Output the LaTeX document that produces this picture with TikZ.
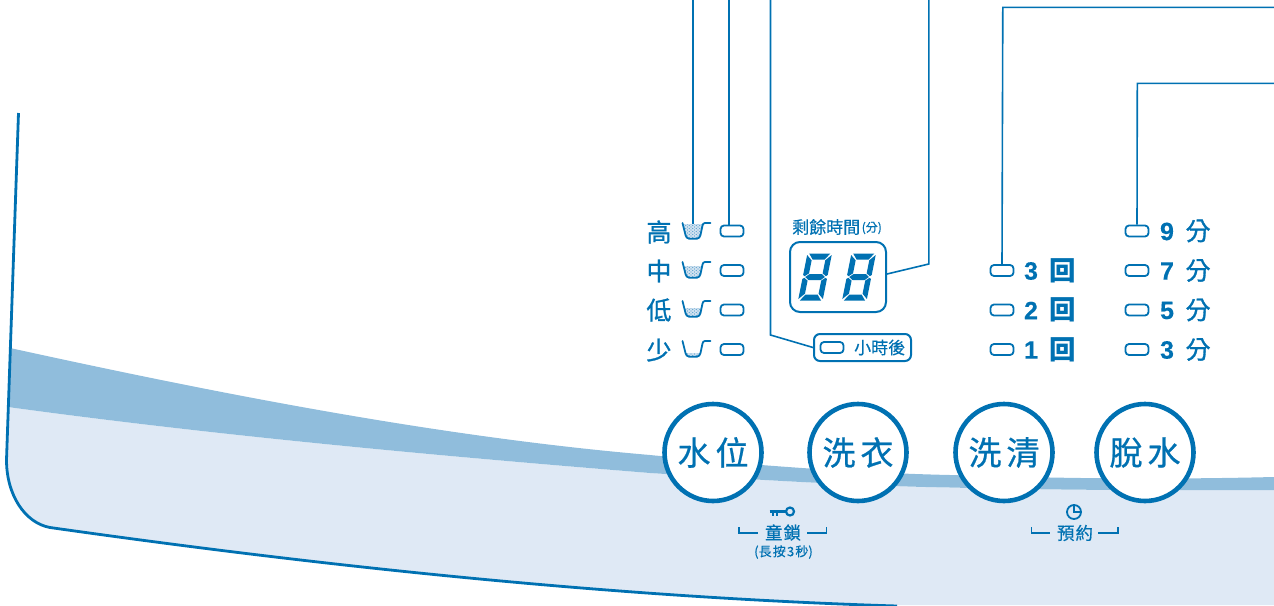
\documentclass[tikz,border=0pt]{standalone}
\usepackage{fontspec}
\setmainfont{Liberation Sans}
\newfontfamily\cjk{Noto Sans CJK TC}
\newfontfamily\cjklab[FakeBold=1.2]{Noto Sans CJK TC}
\newfontfamily\cjkbtn[FakeBold=0.7]{Noto Sans CJK TC}
\newfontfamily\cjkthin[FakeBold=0.5]{Noto Sans CJK TC}
\newfontfamily\latinb[FakeBold=0.3]{Liberation Sans}
\definecolor{ink}{HTML}{0071B2}
\definecolor{band}{HTML}{90BDDC}
\definecolor{pale}{HTML}{DFE9F5}
\definecolor{water}{HTML}{D3E3F1}
\tikzset{
  lead/.style={draw=ink,line width=1.6pt},
  lampbox/.style={draw=ink,line width=1.8pt,rounded corners=3.5pt,minimum width=23pt,minimum height=11pt,inner sep=0pt},
  panelbox/.style={draw=ink,line width=2pt,inner sep=0pt},
  btn/.style={circle,draw=ink,fill=white,line width=4.6pt,minimum size=97pt,inner sep=0pt,text=ink,font=\cjkbtn\fontsize{33}{33}\selectfont},
  lab/.style={inner sep=0pt,text=ink,font=\cjklab\fontsize{25}{25}\selectfont},
  boxlab/.style={inner sep=0pt,text=ink,font=\cjk\bfseries\fontsize{26.5}{26.5}\selectfont},
  numlab/.style={inner sep=0pt,text=ink,font=\latinb\bfseries\fontsize{25}{25}\selectfont},
  smalllab/.style={inner sep=0pt,text=ink,font=\cjkthin\fontsize{17.5}{18}\selectfont},
  tinylab/.style={inner sep=0pt,text=ink,font=\cjkthin\fontsize{12}{12}\selectfont},
  brack/.style={draw=ink,line width=1.6pt},
}
% beaker: top y, water level y
\newcommand{\beakerdraw}[3]{%
  \begin{scope}[shift={(0,#1)}]
    \begin{scope}
      \clip (680,#2) rectangle (705,16);
      \fill[water] (682.5,0) -- (685.5,12) to[out=-75,in=180] (689,15.7) -- (697,15.7) to[out=0,in=-105] (700.5,12) -- (703,0) -- cycle;
      \clip (682.5,0) -- (685.5,12) to[out=-75,in=180] (689,15.7) -- (697,15.7) to[out=0,in=-105] (700.5,12) -- (703,0) -- cycle;
      \foreach \dx in {684,687.5,...,703}{\foreach \dy in {1,4,...,16}{
        \fill[ink,opacity=.6] (\dx,\dy) circle (.55pt);
        \fill[ink,opacity=.6] (\dx+1.75,\dy+1.5) circle (.55pt);
      }}
    \end{scope}
    \draw[ink,line width=1.8pt,line cap=round,line join=round] (682.5,0) -- (685.5,12) to[out=-75,in=180] (689,15.7) -- (697,15.7) to[out=0,in=-105] (700.5,12) -- (702.5,2.5) to[out=80,in=180] (705,0) -- (710.5,0);
  \end{scope}}
% seven segment digit
\newcommand{\segdigit}[2]{%
  \begin{scope}[shift={(#1,#2)},xslant=0.2]
    \fill[ink] (1.8,0) -- (23,0) -- (18.4,6) -- (6.4,6) -- cycle;
    \fill[ink] (2.5,23.5) -- (6.4,20.5) -- (18.6,20.5) -- (22.2,23.5) -- (18.6,26.5) -- (6.4,26.5) -- cycle;
    \fill[ink] (1.8,47) -- (23,47) -- (18.4,41) -- (6.4,41) -- cycle;
    \fill[ink] (0,1.5) -- (5.6,6.8) -- (5.6,19.8) -- (1.8,22.7) -- (0,21.5) -- cycle;
    \fill[ink] (0,25.5) -- (1.8,24.3) -- (5.6,27.2) -- (5.6,40.2) -- (0,45.5) -- cycle;
    \fill[ink] (24.6,1.5) -- (19.2,6.8) -- (19.2,19.8) -- (23,22.7) -- (24.6,21.5) -- cycle;
    \fill[ink] (24.6,25.5) -- (23,24.3) -- (19.2,27.2) -- (19.2,40.2) -- (24.6,45.5) -- cycle;
  \end{scope}}
\begin{document}
\begin{tikzpicture}[x=1pt,y=-1pt]
\useasboundingbox (0,0) rectangle (1274,605);
% panel body
\fill[pale] (8,407) -- (6,460) .. controls (6,495) and (25,523) .. (50,527) .. controls (300,563) and (600,597) .. (897,605) -- (1274,605) -- (1274,490) .. controls (1150,490.5) and (1050,490) .. (950,487.5) .. controls (860,486) and (760,480) .. (650,473) .. controls (440,456) and (220,436) .. (8,407) -- cycle;
\fill[band] (10,348) .. controls (220,394) and (440,437) .. (650,455) .. controls (760,466) and (860,473) .. (950,475) .. controls (1050,478) and (1150,480) .. (1274,477) -- (1274,490) .. controls (1150,490.5) and (1050,490) .. (950,487.5) .. controls (860,486) and (760,480) .. (650,473) .. controls (440,456) and (220,436) .. (8,407) -- cycle;
\draw[ink,line width=2.8pt] (18.5,113) -- (6.5,460) .. controls (6.5,495) and (25,523) .. (50,527.5) .. controls (300,563) and (600,597) .. (897,606);
% free ends
\coordinate (t1) at (693,-1);
\coordinate (t2) at (729,-1);
\coordinate (t3) at (770.5,-1);
\coordinate (t4) at (928.8,-1);
\coordinate (t5) at (1275,7.3);
\coordinate (t6) at (1275,83.3);
\coordinate (bk) at (693,224);
\coordinate (k3) at (770.5,335);
\coordinate (k4) at (928.8,264);
\coordinate (k5) at (1002.8,7.3);
\coordinate (k6) at (1137.3,83.3);
% left column
\node[lab] (gao) at (659,232) {高};
\node[lab] (zhong) at (659,271) {中};
\node[lab] (di) at (659,310) {低};
\node[lab] (shao) at (659,350) {少};
\beakerdraw{223}{1}{}
\beakerdraw{262}{4}{}
\beakerdraw{301}{7}{}
\beakerdraw{341}{12}{}
\node[lampbox] (la1) at (732,231) {};
\node[lampbox] (la2) at (732,270.5) {};
\node[lampbox] (la3) at (732,310) {};
\node[lampbox] (la4) at (732,349.5) {};
% display
\node[smalllab,anchor=west,font=\cjkthin\fontsize{17}{17}\selectfont] (rem) at (792,227) {剩餘時間};
\node[tinylab,anchor=west,font=\cjkthin\fontsize{12}{12}\selectfont] (remu) at (861.5,228) {(分)};
\node[panelbox,rounded corners=10pt,minimum width=96pt,minimum height=70pt] (disp) at (838,277) {};
\segdigit{807.4}{253.5}
\segdigit{851.4}{253.5}
\node[panelbox,fill=white,rounded corners=6pt,minimum width=97pt,minimum height=27pt] (hbox) at (862.5,347.5) {};
\node[lampbox,minimum width=23pt] (hlamp) at (832,347.5) {};
\node[smalllab,anchor=west,font=\cjkthin\fontsize{17}{17}\selectfont] (htext) at (854,347.5) {小時後};
% right columns
\node[lampbox] (lb1) at (1002,270.5) {};
\node[lampbox] (lb2) at (1002,310) {};
\node[lampbox] (lb3) at (1002,349.5) {};
\node[numlab] (n3) at (1031,271) {3};
\node[numlab] (n2) at (1031,310.5) {2};
\node[numlab] (n1) at (1031,350) {1};
\node[boxlab] (h3) at (1063,270.5) {回};
\node[boxlab] (h2) at (1063,310) {回};
\node[boxlab] (h1) at (1063,350) {回};
\node[lampbox] (lc1) at (1137,231) {};
\node[lampbox] (lc2) at (1137,270.5) {};
\node[lampbox] (lc3) at (1137,310) {};
\node[lampbox] (lc4) at (1137,349.5) {};
\node[numlab] (m9) at (1167,231.5) {9};
\node[numlab] (m7) at (1167,271) {7};
\node[numlab] (m5) at (1167,310.5) {5};
\node[numlab] (m3) at (1167,350) {3};
\node[lab] (f9) at (1198,231) {分};
\node[lab] (f7) at (1198,270.5) {分};
\node[lab] (f5) at (1198,310) {分};
\node[lab] (f3) at (1198,349.5) {分};
% leader lines
\draw[lead] (t1) -- (bk);
\draw[lead] (t2) -- (t2 |- la1.north);
\draw[lead] (t3) -- (k3) -- (hbox.west);
\draw[lead] (t4) -- (k4) -- (disp.east |- 0,274);
\draw[lead] (t5) -- (k5) -- (lb1.north);
\draw[lead] (t6) -- (k6) -- (lc1.north);
% buttons
\node[btn] (b1) at (713,452.5) {水\hspace{5pt}位};
\node[btn] (b2) at (858,452.5) {洗\hspace{5pt}衣};
\node[btn] (b3) at (1004,452.5) {洗\hspace{5pt}清};
\node[btn] (b4) at (1145,452.5) {脫\hspace{5pt}水};
% child lock
\draw[ink,line width=2.2pt] (790,511.5) circle (4pt);
\draw[ink,line width=2.2pt] (769.5,511.5) -- (786,511.5);
\draw[ink,line width=2pt] (772.5,511.5) -- (772.5,516) (777,511.5) -- (777,516);
\node[smalllab] (lock) at (783,532.5) {童\hspace{1pt}鎖};
\node[tinylab,font=\cjkthin\fontsize{13}{13}\selectfont] (hold) at (783.5,552) {(長\hspace{1.2pt}按\hspace{1.2pt}3\hspace{1.2pt}秒)};
\draw[brack] (738.8,527) -- (738.8,533) -- (758,533);
\draw[brack] (807,533) -- (826.5,533) -- (826.5,527);
% timer
\draw[ink,line width=1.8pt] (1074,512) circle (7pt);
\draw[ink,line width=1.6pt] (1074,506) -- (1074,512) -- (1080,512);
\node[smalllab] (res) at (1075,533) {預\hspace{1pt}約};
\draw[brack] (1031.5,527) -- (1031.5,533) -- (1050,533);
\draw[brack] (1098,533) -- (1118,533) -- (1118,527);
\end{tikzpicture}
\end{document}
